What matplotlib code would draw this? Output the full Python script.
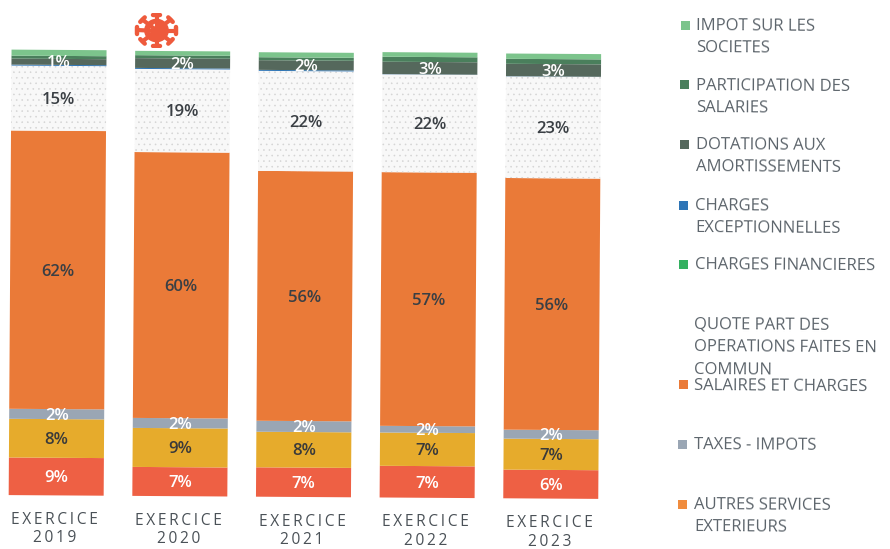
import numpy as np
import matplotlib
matplotlib.use("Agg")
import matplotlib.pyplot as plt
from matplotlib.patches import Rectangle, Arc, Ellipse
from matplotlib.transforms import Affine2D, IdentityTransform

# ---- data -----------------------------------------------------------------
years = ["EXERCICE\n2019", "EXERCICE\n2020", "EXERCICE\n2021", "EXERCICE\n2022", "EXERCICE\n2023"]
achats = [8.46, 6.52, 6.61, 7.13, 6.45]
autres_services = [8.70, 8.77, 8.00, 7.49, 6.97]
taxes = [2.25, 2.25, 2.47, 1.50, 2.02]
salaires = [62.6, 59.8, 56.2, 57.06, 56.6]
quote_part = [14.6, 18.7, 22.5, 22.0, 22.85]
financieres = [0.0, 0.0, 0.0, 0.0, 0.0]
exceptionnelles = [0.22, 0.22, 0.22, 0.05, 0.05]
dotations = [1.35, 2.20, 2.18, 2.79, 2.79]
participation = [0.67, 0.67, 0.67, 1.12, 1.12]
impot = [1.35, 0.97, 1.12, 1.03, 1.19]

lab_achats = ["9%", "7%", "7%", "7%", "6%"]
lab_autres = ["8%", "9%", "8%", "7%", "7%"]
lab_taxes = ["2%", "2%", "2%", "2%", "2%"]
lab_salaires = ["62%", "60%", "56%", "57%", "56%"]
lab_quote = ["15%", "19%", "22%", "22%", "23%"]
lab_dot = ["1%", "2%", "2%", "3%", "3%"]

legend_names = ["IMPOT SUR LES\nSOCIETES", "PARTICIPATION DES\nSALARIES",
                "DOTATIONS AUX\nAMORTISSEMENTS", "CHARGES\nEXCEPTIONNELLES",
                "CHARGES FINANCIERES", "QUOTE PART DES\nOPERATIONS FAITES EN\nCOMMUN",
                "SALAIRES ET CHARGES", "TAXES - IMPOTS", "AUTRES SERVICES\nEXTERIEURS"]

# ---- styles ---------------------------------------------------------------
FONT = "Open Sans"
W, H = 890, 549
TILT = -0.37
TXT = "#5c646b"
C_RED, C_YEL, C_GRY, C_ORG = "#ee6044", "#e6ab2c", "#9aa6b4", "#ea7a38"
C_BLU, C_DOT, C_PAR, C_LG, C_FIN = "#2e75b6", "#55685c", "#4a7f5c", "#7cc48c", "#34b060"
plt.rcParams["font.family"] = [FONT, "DejaVu Sans"]
plt.rcParams["hatch.linewidth"] = 0.4

fig = plt.figure(figsize=(W / 100, H / 100), dpi=100, facecolor="white")
top_px, bot_px, ax_right = 53.2, 497.9, 660
first_c, pitch, bar_px = 57.6, 123.65, 95.0
ax = fig.add_axes([0, 1 - bot_px / H, ax_right / W, (bot_px - top_px) / H])
ax.set_xlim(-first_c / pitch, (ax_right - first_c) / pitch)
ax.set_ylim(0, 100.02)
ax.axis("off")

tilt = Affine2D().rotate_deg_around(W / 2, H / 2, TILT)
tr = ax.transData + tilt
tr_lab = tr + Affine2D().translate(0, -1.6)
x = np.arange(len(years))
width = bar_px / pitch

series = [(achats, C_RED, None), (autres_services, C_YEL, None), (taxes, C_GRY, None),
          (salaires, C_ORG, None), (quote_part, "#f8f8f8", "..."),
          (financieres, C_FIN, None), (exceptionnelles, C_BLU, None),
          (dotations, C_DOT, None), (participation, C_PAR, None), (impot, C_LG, None)]
labels = {0: (lab_achats, "white"), 1: (lab_autres, "#3a3a3a"), 2: (lab_taxes, "white"),
          3: (lab_salaires, "#3a3f44"), 4: (lab_quote, "#3a3f44"), 7: (lab_dot, "white")}

bottom = np.zeros(len(x))
for i, (vals, col, hatch) in enumerate(series):
    v = np.asarray(vals, float)
    ax.bar(x, v, width, bottom=bottom, color=col, linewidth=0, transform=tr,
           hatch=hatch, edgecolor="#d4d4d4" if hatch else col, clip_on=False)
    if i in labels:
        txts, tc = labels[i]
        for xi, b, h, t in zip(x, bottom, v, txts):
            ax.text(xi, b + h / 2, t, color=tc, ha="center", va="center", fontsize=12,
                    fontweight="semibold", transform=tr_lab, clip_on=False)
    bottom = bottom + v

# category labels, tilted with the bars; thin spaces give the scan's letter spacing
for xi, t in zip(x, years):
    a, b = t.split("\n")
    ax.annotate("\u2009".join(a) + "\n" + "\u2009".join(b), (xi, 0), xytext=(-1, -12),
                textcoords="offset points", xycoords=tr, ha="center", va="top",
                fontsize=11.2, color="#4a5157", linespacing=1.2, annotation_clip=False)

# legend, placed by hand as in the scan
leg_cols = [C_LG, C_PAR, C_DOT, C_BLU, C_FIN, None, C_ORG, C_GRY, "#f08c3e"]
swatch_xy = [(685, 25.5), (684.5, 84.5), (684, 144), (683.5, 205), (683.5, 264), None,
             (683, 384), (682.5, 444), (682, 504)]
text_xy = [(696, 26), (696, 86), (696, 145), (695, 206), (695, 265), (694, 325),
           (694, 386), (694, 445), (694, 505)]
for name, col, s, t in zip(legend_names, leg_cols, swatch_xy, text_xy):
    if s is not None:
        fig.add_artist(Rectangle((s[0] - 4.5, H - s[1] - 4.5), 9, 9, facecolor=col, linewidth=0,
                                 transform=IdentityTransform()))
    for k, line in enumerate(name.split("\n")):
        fig.text(t[0] / W, 1 - (t[1] + 22.3 * k) / H, line, fontsize=12, color=TXT,
                 ha="left", va="center", rotation=TILT, rotation_mode="anchor")

# virus icon above 2020
vx = fig.add_axes([134 / W, 1 - 48 / H, 45 / W, 35 / H])
vx.set_xlim(-1.0, 1.0)
vx.set_ylim(-1.0, 1.0)
vx.axis("off")
VC = "#ee5a3c"
vx.add_patch(Ellipse((0, 0), 1.1, 1.35, color=VC, linewidth=0))
for ang in np.arange(0, 360, 45):
    c, s = np.cos(np.radians(ang)), np.sin(np.radians(ang))
    vx.plot([0, 0.88 * c], [0, 0.88 * s], color=VC, lw=3, solid_capstyle="round")
    px, py = -s, c
    vx.plot([0.88 * c - 0.14 * px, 0.88 * c + 0.14 * px],
            [0.88 * s - 0.18 * py, 0.88 * s + 0.18 * py], color=VC, lw=3.2, solid_capstyle="round")
vx.add_patch(Arc((0.05, -0.05), 0.6, 0.8, theta1=100, theta2=190, color="white", lw=1.6))

fig.savefig("out.png", dpi=100, facecolor="white")
